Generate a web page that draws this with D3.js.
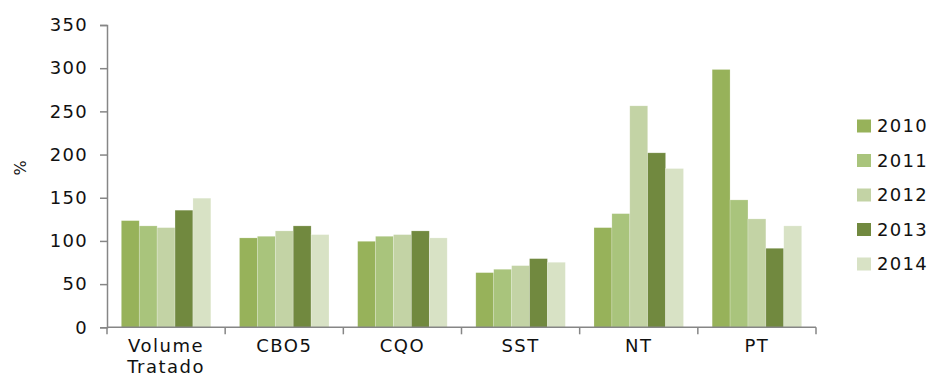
<!DOCTYPE html>
<html><head><meta charset="utf-8">
<script src="https://cdn.jsdelivr.net/npm/d3@7"></script>
<style>
body{margin:0;background:#fff;}
text{font-family:"DejaVu Sans",sans-serif;fill:#111;}
</style></head>
<body><svg id="c" width="931" height="385"></svg>
<script>
const categories = ["Volume Tratado","CBO5","CQO","SST","NT","PT"];
const years = ["2010","2011","2012","2013","2014"];
const values2010 = [123.5,103.5,99.6,63.3,115.4,298.5];
const values2011 = [117.4,105.4,105.4,67.2,131.6,147.5];
const values2012 = [115.4,111.6,107.3,71.4,256.4,125.5];
const values2013 = [135.6,117.4,111.6,79.5,202,91.5];
const values2014 = [149.5,107.3,103.5,75.3,183.8,117.4];
const yTicks = [0,50,100,150,200,250,300,350];
const colors = ["#97B25A","#A9C47C","#C3D3A5","#71893F","#D8E2C5"];

(function(){
const series = [values2010,values2011,values2012,values2013,values2014];
const svg = d3.select("#c");
const mLeft = 107, mRight = 816, mTop = 25, mBottom = 327.3;

const x = d3.scaleBand().domain(categories).range([mLeft,mRight]).paddingInner(0).paddingOuter(0);
const x1 = d3.scaleBand().domain(years).range([0,x.bandwidth()]).paddingInner(0).paddingOuter(0.8);
const y = d3.scaleLinear().domain([0,350]).range([mBottom,mTop]);

categories.forEach((c,ci)=>{
  years.forEach((yr,yi)=>{
    const v = series[yi][ci];
    svg.append("rect")
      .attr("x", x(c)+x1(yr))
      .attr("y", y(v))
      .attr("width", x1.bandwidth())
      .attr("height", y(0)-y(v))
      .attr("fill", colors[yi])
      .attr("stroke","#ffffff").attr("stroke-opacity",0.35).attr("stroke-width",0.6);
  });
});

const ya = svg.append("g").attr("transform",`translate(${mLeft},0)`)
  .call(d3.axisLeft(y).tickValues(yTicks).tickSize(7).tickPadding(12));
ya.select(".domain").attr("stroke","#868686").attr("stroke-width",1.5);
ya.selectAll(".tick line").attr("stroke","#868686").attr("stroke-width",1.5);
ya.selectAll(".tick text").style("font-size","18px").style("letter-spacing","1.3px").attr("fill","#111")
  .style("font-family","DejaVu Sans, sans-serif");

const xa = svg.append("g").attr("transform",`translate(0,${mBottom})`);
xa.append("line").attr("x1",mLeft).attr("x2",mRight).attr("y1",0).attr("y2",0)
  .attr("stroke","#868686").attr("stroke-width",1.5);
const bounds = categories.map(c=>x(c)).concat([mRight]);
xa.selectAll("line.t").data(bounds).enter().append("line").attr("class","t")
  .attr("x1",d=>d).attr("x2",d=>d).attr("y1",0).attr("y2",7)
  .attr("stroke","#868686").attr("stroke-width",1.5);
categories.forEach(c=>{
  const words = c.split(" ");
  const t = xa.append("text").attr("text-anchor","middle")
    .attr("x", x(c)+x.bandwidth()/2).attr("y", 25)
    .style("font-size","18px").style("letter-spacing","1.5px");
  words.forEach((w,i)=>{
    t.append("tspan").attr("x", x(c)+x.bandwidth()/2).attr("dy", i===0?0:21).text(w);
  });
});

svg.append("text").attr("transform","translate(26,168) rotate(-90)")
  .attr("text-anchor","middle").style("font-size","16px").text("%");

years.forEach((yr,i)=>{
  const cy = 126 + i*34.5;
  svg.append("rect").attr("x",857).attr("y",cy-6.5).attr("width",14).attr("height",13).attr("fill",colors[i]);
  svg.append("text").attr("x",877).attr("y",cy).attr("dy","0.36em")
    .style("font-size","18px").style("letter-spacing","1.3px").text(yr);
});
})();
</script></body></html>
